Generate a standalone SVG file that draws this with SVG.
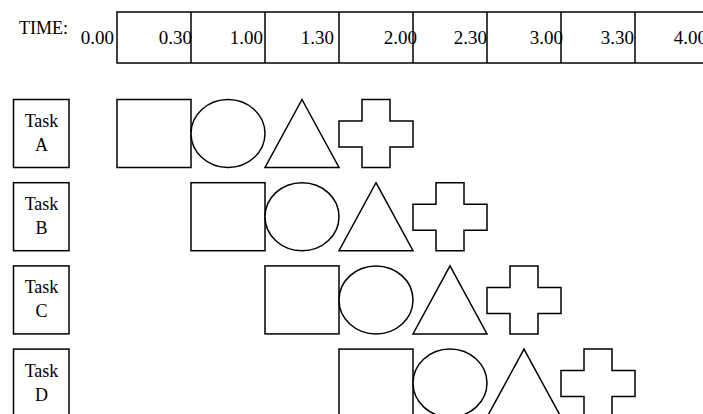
<svg xmlns="http://www.w3.org/2000/svg" xmlns:xlink="http://www.w3.org/1999/xlink" width="703" height="414" viewBox="0 0 703 414">
<style>
.s{fill:#fff;stroke:#000;stroke-width:1.5}
.t{font-family:"Liberation Serif","Times New Roman",serif;font-size:18px;fill:#000}
.tl{font-family:"Liberation Serif","Times New Roman",serif;font-size:19px;fill:#000;text-anchor:end}
.tk{font-family:"Liberation Serif","Times New Roman",serif;font-size:18px;fill:#000;text-anchor:middle}
</style>
<defs>
<g id="shapes">
<rect class="s" x="117" y="0" width="74" height="68"/>
<ellipse class="s" cx="228" cy="34" rx="37" ry="34"/>
<polygon class="s" points="302,0 339,68 265,68"/>
<polygon class="s" points="362,0 390,0 390,21.5 413,21.5 413,47.5 390,47.5 390,68 362,68 362,47.5 339,47.5 339,21.5 362,21.5"/>
</g>
</defs>
<rect width="703" height="414" fill="#fff"/>
<g id="timeline">
<rect class="s" x="117" y="12" width="600" height="51"/>
<path d="M191 12V63M265 12V63M339 12V63M413 12V63M487 12V63M561 12V63M635 12V63" stroke="#000" stroke-width="1.5" fill="none"/>
<text class="t" x="19" y="34">TIME:</text>
<text class="tl" x="114" y="44">0.00</text>
<text class="tl" x="192" y="44">0.30</text>
<text class="tl" x="263" y="44">1.00</text>
<text class="tl" x="334" y="44">1.30</text>
<text class="tl" x="417" y="44">2.00</text>
<text class="tl" x="487" y="44">2.30</text>
<text class="tl" x="563" y="44">3.00</text>
<text class="tl" x="634" y="44">3.30</text>
<text class="tl" x="707" y="44">4.00</text>
</g>
<g id="taskA">
<rect class="s" x="13.5" y="99.5" width="55.5" height="68"/>
<text class="tk" x="41.5" y="127">Task</text>
<text class="tk" x="41.5" y="151">A</text>
</g>
<g id="taskB">
<rect class="s" x="13.5" y="182.7" width="55.5" height="68"/>
<text class="tk" x="41.5" y="210.2">Task</text>
<text class="tk" x="41.5" y="234.2">B</text>
</g>
<g id="taskC">
<rect class="s" x="13.5" y="265.9" width="55.5" height="68"/>
<text class="tk" x="41.5" y="293.4">Task</text>
<text class="tk" x="41.5" y="317.4">C</text>
</g>
<g id="taskD">
<rect class="s" x="13.5" y="349.1" width="55.5" height="68"/>
<text class="tk" x="41.5" y="376.6">Task</text>
<text class="tk" x="41.5" y="400.6">D</text>
</g>
<g id="rowA"><use xlink:href="#shapes" href="#shapes" transform="translate(0,99.5)"/></g>
<g id="rowB"><use xlink:href="#shapes" href="#shapes" transform="translate(74,182.7)"/></g>
<g id="rowC"><use xlink:href="#shapes" href="#shapes" transform="translate(148,265.9)"/></g>
<g id="rowD"><use xlink:href="#shapes" href="#shapes" transform="translate(222,349.1)"/></g>
</svg>
